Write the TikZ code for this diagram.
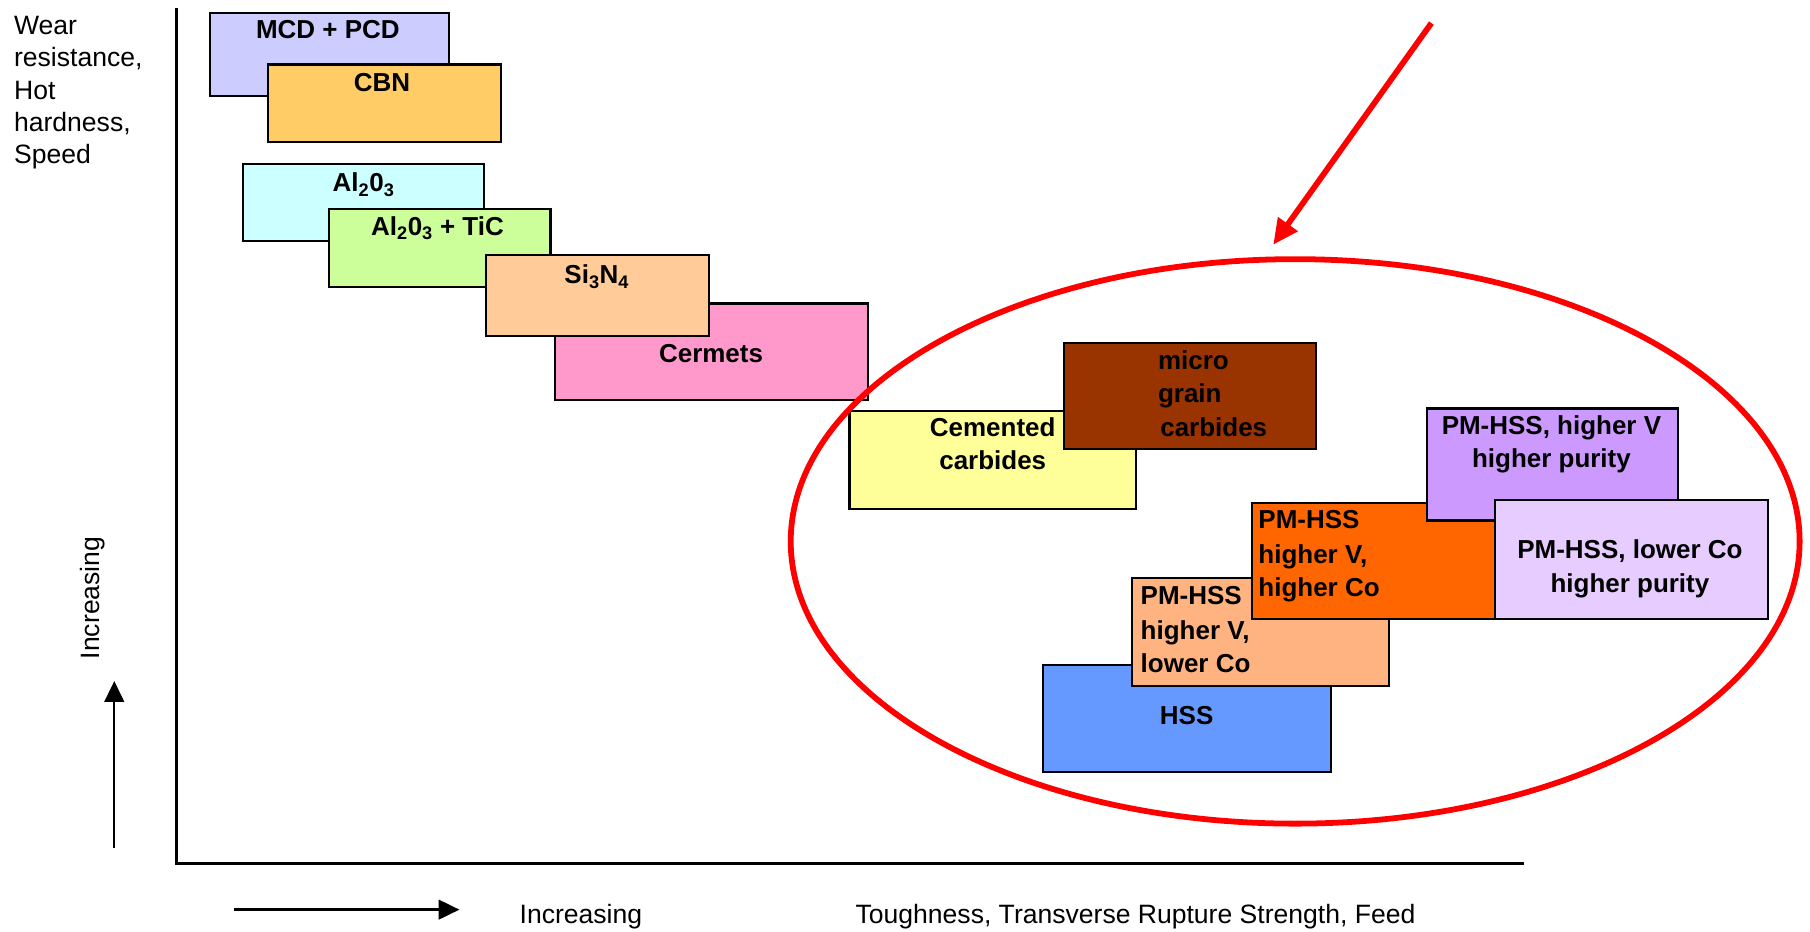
\documentclass[tikz,border=0pt]{standalone}
\usepackage{fontspec}
\setmainfont{Liberation Sans}
\usetikzlibrary{arrows.meta,shapes.geometric}
\definecolor{cMCD}{HTML}{CCCCFF}
\definecolor{cCBN}{HTML}{FFCC66}
\definecolor{cAL}{HTML}{CCFFFF}
\definecolor{cTIC}{HTML}{CCFF99}
\definecolor{cSI}{HTML}{FFCC99}
\definecolor{cCER}{HTML}{FF99CC}
\definecolor{cCEM}{HTML}{FFFF99}
\definecolor{cMIC}{HTML}{993300}
\definecolor{cHSS}{HTML}{6699FF}
\definecolor{cPMLO}{HTML}{FFB380}
\definecolor{cPMCO}{HTML}{FF6600}
\definecolor{cPMV}{HTML}{CC99FF}
\definecolor{cPMP}{HTML}{E6CCFF}
\begin{document}
\begin{tikzpicture}[x=1pt,y=-1pt,
  box/.style={draw=black, line width=1.8pt, inner sep=0pt, anchor=north west},
  lbl/.style={inner sep=0pt, font=\fontsize{22.5}{29}\selectfont\bfseries, anchor=base},
  lbll/.style={lbl, anchor=base west},
  axtxt/.style={inner sep=0pt, font=\fontsize{23}{28}\selectfont, anchor=base west},
  axisline/.style={line width=3pt},
  blackarrow/.style={line width=2pt, -{Triangle[width=17pt,length=18pt]}},
  redarrow/.style={draw=red, line width=5pt, -{Triangle[width=20pt,length=22pt]}},
  ring/.style={draw=red, line width=5pt, ellipse, inner sep=0pt},
]
\useasboundingbox (0,0) rectangle (1568,807);

% axes
\coordinate (origin) at (153,748);
\coordinate (ytop) at (153,7);
\coordinate (xend) at (1320,748);
\draw[axisline] (ytop) -- (origin) -- (xend);

% left label
\node[axtxt] (yl1) at (12,30) {Wear};
\node[axtxt] (yl2) at (12,58) {resistance,};
\node[axtxt] (yl3) at (12,86) {Hot};
\node[axtxt] (yl4) at (12,114) {hardness,};
\node[axtxt] (yl5) at (12,142) {Speed};
\node[axtxt, anchor=center, rotate=90] (yinc) at (80,518) {Increasing};
\coordinate (ua1) at (99,735);
\coordinate (ua2) at (99,590);
\draw[blackarrow] (ua1) -- (ua2);

% bottom labels
\coordinate (ra1) at (203,788);
\coordinate (ra2) at (398,788);
\draw[blackarrow] (ra1) -- (ra2);
\node[axtxt] (xinc) at (450,800) {Increasing};
\node[axtxt] (xlab) at (741,800) {Toughness, Transverse Rupture Strength, Feed};

% boxes
\node[box, fill=cMCD, minimum width=207pt, minimum height=72pt] (mcd) at (181,10) {};
\node[lbl] (mcdT) at (284,33) {MCD + PCD};
\node[box, fill=cCBN, minimum width=202pt, minimum height=67pt] (cbn) at (231,55) {};
\node[lbl] (cbnT) at (331,79) {CBN};
\node[box, fill=cAL, minimum width=208pt, minimum height=67pt] (al) at (210,141) {};
\node[lbl] (alT) at (315,166) {Al\textsubscript{2}0\textsubscript{3}};
\node[box, fill=cTIC, minimum width=192pt, minimum height=68pt] (tic) at (284,180) {};
\node[lbl] (ticT) at (379,204) {Al\textsubscript{2}0\textsubscript{3} + TiC};
\node[box, fill=cCER, minimum width=271pt, minimum height=84pt] (cer) at (480,262) {};
\node[lbl] (cerT) at (616,314) {Cermets};
\node[box, fill=cSI, minimum width=193pt, minimum height=70pt] (si) at (420,220) {};
\node[lbl] (siT) at (517,246) {Si\textsubscript{3}N\textsubscript{4}};
\node[box, fill=cCEM, minimum width=248pt, minimum height=85pt] (cem) at (735,355) {};
\node[lbl] (cemT1) at (860,378) {Cemented};
\node[lbl] (cemT2) at (860,407) {carbides};
\node[box, fill=cMIC, minimum width=218pt, minimum height=92pt] (mic) at (921,296) {};
\node[lbll] (micT1) at (1003,320) {micro};
\node[lbll] (micT2) at (1003,349) {grain};
\node[lbll] (micT3) at (1005,378) {carbides};
\node[box, fill=cHSS, minimum width=249pt, minimum height=93pt] (hss) at (903,575) {};
\node[lbl] (hssT) at (1028,628) {HSS};
\node[box, fill=cPMLO, minimum width=222pt, minimum height=93pt] (pmlo) at (980,500) {};
\node[lbll] (pmloT1) at (988,524) {PM-HSS};
\node[lbll] (pmloT2) at (988,554) {higher V,};
\node[lbll] (pmloT3) at (988,583) {lower Co};
\node[box, fill=cPMCO, minimum width=232pt, minimum height=100pt] (pmco) at (1084,435) {};
\node[lbll] (pmcoT1) at (1090,458) {PM-HSS};
\node[lbll] (pmcoT2) at (1090,488) {higher V,};
\node[lbll] (pmcoT3) at (1090,517) {higher Co};
\node[box, fill=cPMV, minimum width=218pt, minimum height=97pt] (pmv) at (1235,353) {};
\node[lbl] (pmvT1) at (1344,376) {PM-HSS, higher V};
\node[lbl] (pmvT2) at (1344,405) {higher purity};
\node[box, fill=cPMP, minimum width=237pt, minimum height=103pt] (pmp) at (1294,432) {};
\node[lbl] (pmpT1) at (1412,484) {PM-HSS, lower Co};
\node[lbl] (pmpT2) at (1412,513) {higher purity};

% red highlight
\node[ring, minimum width=874pt, minimum height=489pt] (hl) at (1122,469) {};
\coordinate (rs) at (1240,20);
\coordinate (re) at (1103,212);
\draw[redarrow] (rs) -- (re);
\end{tikzpicture}
\end{document}
